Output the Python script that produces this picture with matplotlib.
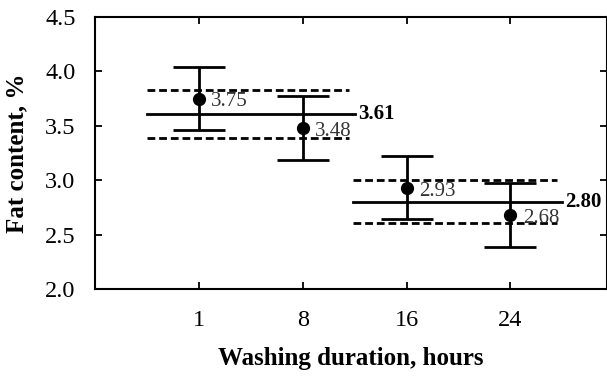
import matplotlib
matplotlib.use("Agg")
from matplotlib import pyplot as plt

# data
durations = ["1", "8", "16", "24"]
fat = [3.75, 3.48, 2.93, 2.68]
err = [0.29, 0.29, 0.29, 0.29]
group_means = [3.61, 2.80]
group_lo = [3.39, 2.61]
group_hi = [3.83, 3.00]
group_span = [(0.5, 2.5), (2.48, 4.5)]

plt.rcParams['font.family'] = ['Liberation Serif', 'DejaVu Serif']

fig = plt.figure(figsize=(6.07, 3.8), dpi=100)
ax = fig.add_axes([95 / 607, 1 - 289 / 380, 512 / 607, 272 / 380])

xpos = list(range(1, len(durations) + 1))
ax.errorbar(xpos, fat, yerr=err, fmt='o', color='black', ms=8.5,
            elinewidth=2, capsize=19, capthick=2, zorder=3)

for m, lo, hi, (x0, x1) in zip(group_means, group_lo, group_hi, group_span):
    ax.plot([x0, x1], [m, m], color='black', lw=2)
    ax.plot([x0, x1 - 0.05], [hi, hi], color='black', lw=2, ls=(0, (2.8, 1.4)))
    ax.plot([x0, x1 - 0.05], [lo, lo], color='black', lw=2, ls=(0, (2.8, 1.4)))
    ax.text(x1 + 0.03, m, f"{m:.2f}", fontsize=15, fontweight='bold',
            va='center', ha='left')

for x, v in zip(xpos, fat):
    ax.text(x + 0.12, v - 0.03, f"{v:.2f}", fontsize=15, va='center',
            ha='left', color='#333333')

ax.set_xlim(0, 4.93)
ax.set_ylim(2.0, 4.5)
ax.set_xticks(xpos)
ax.set_xticklabels(durations)
ax.set_yticks([2.0, 2.5, 3.0, 3.5, 4.0, 4.5])
ax.set_yticklabels(["2.0", "2.5", "3.0", "3.5", "4.0", "4.5"])
ax.tick_params(direction='in', length=5, width=1.3, labelsize=17.5,
               top=True, right=True, pad=14)
ax.tick_params(axis='x', pad=15)
for s in ax.spines.values():
    s.set_linewidth(1.5)

ax.set_xlabel("Washing duration, hours", fontsize=18, fontweight='bold', labelpad=12)
ax.set_ylabel("Fat content, %", fontsize=18, fontweight='bold', labelpad=12)

fig.savefig("out.png", dpi=100)
